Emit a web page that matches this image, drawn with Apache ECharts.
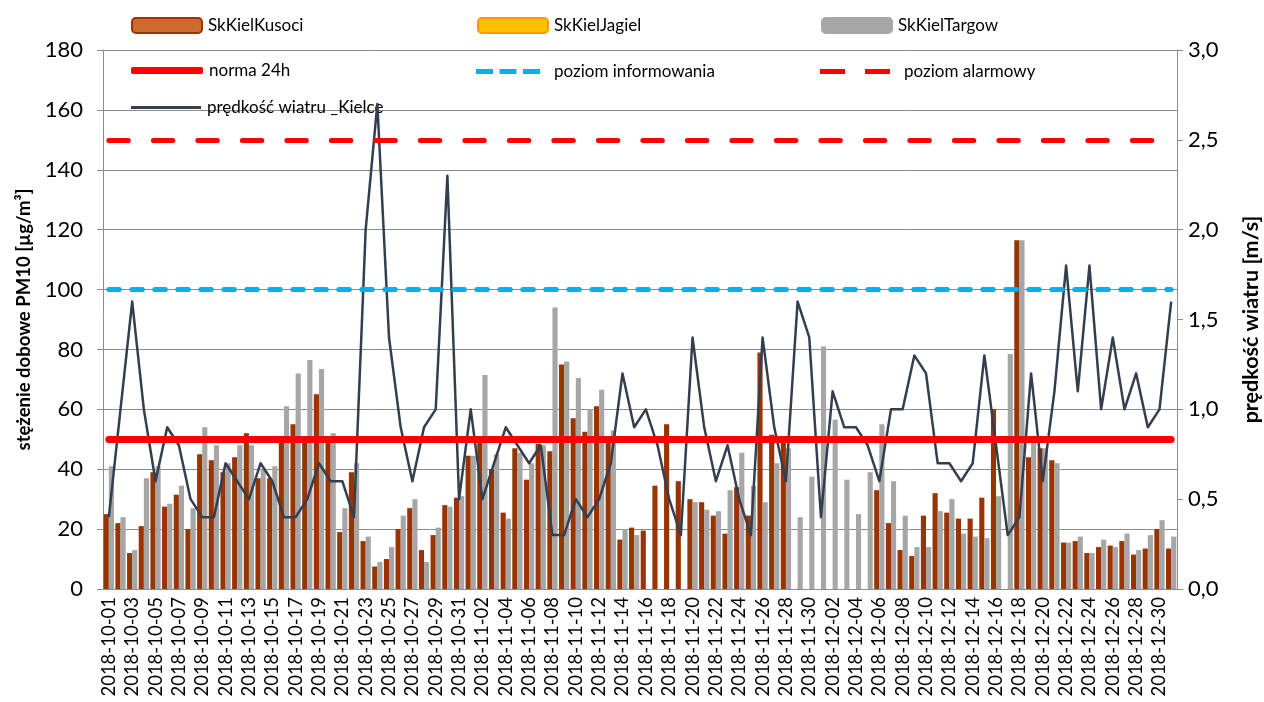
<!DOCTYPE html>
<html>
<head>
<meta charset="utf-8">
<script src="https://cdn.jsdelivr.net/npm/echarts@6/dist/echarts.min.js"></script>
<style>
html, body { margin: 0; padding: 0; background: #ffffff; }
#main { width: 1264px; height: 702px; }
</style>
</head>
<body>
<div id="main"></div>
<script>
// dni 2018-10-01 .. 2018-12-31
var days = [];
var start = Date.UTC(2018, 9, 1);
for (var d = 0; d < 92; d++) {
    days.push(new Date(start + d * 86400000).toISOString().slice(0, 10));
}

// stężenia dobowe PM10 [µg/m3]
var kusoci = [25, 22, 12, 21, 39, 27.5, 31.5, 20, 45, 43,
    39, 44, 52, 37, 37, 49, 55, 49, 65, 49,
    19, 39, 16, 7.5, 10, 20, 27, 13, 18, 28,
    30.5, 44.5, 49, 40, 25.5, 47, 36.5, 48.5, 46, 75,
    57, 52.5, 61, 50, 16.5, 20.5, 19.5, 34.5, 55, 36,
    30, 29, 24.5, 18.5, 34, 24.5, 79, 51.5, 49, null,
    null, null, null, null, null, null, 33, 22, 13, 11,
    24.5, 32, 25.5, 23.5, 23.5, 30.5, 60, null, 116.5, 44,
    47, 43, 15.5, 16, 12, 14, 14.5, 16, 11.5, 13.5,
    20, 13.5];
var jagiel = days.map(function () { return null; }); // brak danych
var targow = [41, 24, 13, 37, 41, 28.5, 34.5, 27, 54, 48,
    42, 48, 48, 40, 41, 61, 72, 76.5, 73.5, 52,
    27, 42, 17.5, 9, 14, 24.5, 30, 9, 20.5, 27.5,
    31, 44.5, 71.5, 45, 23.5, 45.5, 42, 48, 94, 76,
    70.5, 60, 66.5, 53, 20, 18, null, null, null, null,
    29, 26.5, 26, 33, 45.5, 34.5, 29, 42, 47, 24,
    37.5, 81, 56.5, 36.5, 25, 39, 55, 36, 24.5, 14,
    14, 26, 30, 18.5, 17.5, 17, 31, 78.5, 116.5, 51,
    47, 42, 15.5, 17.5, 12, 16.5, 14, 18.5, 13, 18,
    23, 17.5];

// prędkość wiatru [m/s]
var wind = [0.4, 1.0, 1.6, 1.0, 0.6, 0.9, 0.8, 0.5, 0.4, 0.4,
    0.7, 0.6, 0.5, 0.7, 0.6, 0.4, 0.4, 0.5, 0.7, 0.6,
    0.6, 0.4, 2.0, 2.7, 1.4, 0.9, 0.6, 0.9, 1.0, 2.3,
    0.5, 1.0, 0.5, 0.7, 0.9, 0.8, 0.7, 0.8, 0.3, 0.3,
    0.5, 0.4, 0.5, 0.7, 1.2, 0.9, 1.0, 0.8, 0.5, 0.3,
    1.4, 0.9, 0.6, 0.8, 0.5, 0.3, 1.4, 0.9, 0.6, 1.6,
    1.4, 0.4, 1.1, 0.9, 0.9, 0.8, 0.6, 1.0, 1.0, 1.3,
    1.2, 0.7, 0.7, 0.6, 0.7, 1.3, 0.8, 0.3, 0.4, 1.2,
    0.6, 1.1, 1.8, 1.1, 1.8, 1.0, 1.4, 1.0, 1.2, 0.9,
    1.0, 1.6];

// poziomy PM10
var NORMA = 50;
var INFORMOWANIE = 100;
var ALARM = 150;

var FONT = 'Lato';

var normaStyle = { color: '#FF0000', width: 7, type: 'solid', cap: 'round' };
var infoStyle = { color: '#00B0F0', width: 5, type: [10.5, 12.5], cap: 'round' };
var alarmStyle = { color: '#FF0000', width: 5, type: [19.5, 25], cap: 'round' };
var windStyle = { color: '#333F50', width: 2.5, join: 'round' };

function levelLine(value, style) {
    return {
        silent: true,
        symbol: ['none', 'none'],
        label: { show: false },
        lineStyle: style,
        data: [[{ coord: [days[0], value] }, { coord: [days[days.length - 1], value] }]]
    };
}

function legendAt(left, top, item, extra) {
    var l = {
        left: left,
        top: top,
        padding: 0,
        itemWidth: 70,
        itemHeight: 15,
        selectedMode: false,
        textStyle: { fontFamily: FONT, fontSize: 17, color: '#000000', padding: [0, 0, 0, 1] },
        data: [item]
    };
    if (extra) {
        for (var k in extra) l[k] = extra[k];
    }
    return l;
}

var chart = echarts.init(document.getElementById('main'));

var legendText9 = { fontFamily: FONT, fontSize: 17, color: '#000000', padding: [0, 0, 0, 9] };

var option = {
    backgroundColor: '#ffffff',
    animation: false,
    textStyle: { fontFamily: FONT },
    legend: [
        legendAt(131, 17, { name: 'SkKielKusoci', itemStyle: { color: '#D2692C', borderColor: '#993300', borderWidth: 2 } }),
        legendAt(477, 17, { name: 'SkKielJagiel', itemStyle: { color: '#FFC000', borderColor: '#FF9900', borderWidth: 2 } }),
        legendAt(821, 17, { name: 'SkKielTargow', itemStyle: { color: '#A6A6A6', borderColor: '#A6A6A6', borderWidth: 2 } }),
        legendAt(131, 62, { name: 'norma 24h', icon: 'roundRect', itemStyle: { color: '#FF0000' } },
            { itemWidth: 72, itemHeight: 7 }),
        legendAt(476, 63, {
            name: 'poziom informowania',
            icon: 'path://M0,0h17v5h-17z M23.5,0h17v5h-17z M47,0h17v5h-17z',
            itemStyle: { color: '#00B0F0' }
        }, { itemWidth: 64, itemHeight: 5, textStyle: legendText9 }),
        legendAt(820, 63, {
            name: 'poziom alarmowy',
            icon: 'path://M0,0h25v5h-25z M45,0h25v5h-25z',
            itemStyle: { color: '#FF0000' }
        }, { itemWidth: 70, itemHeight: 5, textStyle: legendText9 }),
        legendAt(131, 99, { name: 'prędkość wiatru _Kielce', icon: 'rect', itemStyle: { color: '#333F50' } },
            { itemWidth: 70, itemHeight: 3 })
    ],
    grid: { left: 103, right: 87, top: 50, bottom: 113, containLabel: false, outerBoundsMode: 'none' },
    xAxis: {
        type: 'category',
        data: days,
        boundaryGap: true,
        axisLine: { lineStyle: { color: '#8C8C8C', width: 1 } },
        axisTick: { interval: 1, length: 5, lineStyle: { color: '#8C8C8C' } },
        axisLabel: { interval: 1, rotate: 90, fontFamily: FONT, fontSize: 18.5, color: '#000000', margin: 8 },
        splitLine: { show: false }
    },
    yAxis: [{
        type: 'value',
        min: 0,
        max: 180,
        interval: 20,
        name: 'stężenie dobowe PM10 [µg/m³]',
        nameLocation: 'middle',
        nameGap: 66,
        nameRotate: 90,
        nameTextStyle: { fontFamily: FONT, fontSize: 18.5, fontWeight: 'bold', color: '#000000' },
        axisLine: { show: true, lineStyle: { color: '#8C8C8C', width: 1 } },
        axisTick: { show: true, length: 6, lineStyle: { color: '#8C8C8C' } },
        axisLabel: { fontFamily: FONT, fontSize: 22, color: '#000000', margin: 20 },
        splitLine: { lineStyle: { color: '#8C8C8C', width: 1 } }
    }, {
        type: 'value',
        min: 0,
        max: 3,
        interval: 0.5,
        position: 'right',
        name: 'prędkość wiatru [m/s]',
        nameLocation: 'middle',
        nameGap: 63,
        nameRotate: 90,
        nameTextStyle: { fontFamily: FONT, fontSize: 21.5, fontWeight: 'bold', color: '#000000' },
        axisLine: { show: true, lineStyle: { color: '#8C8C8C', width: 1 } },
        axisTick: { show: true, length: 6, lineStyle: { color: '#8C8C8C' } },
        axisLabel: {
            fontFamily: FONT, fontSize: 22, color: '#000000', margin: 11,
            formatter: function (v) { return v.toFixed(1).replace('.', ','); }
        },
        splitLine: { show: false }
    }],
    series: [{
        name: 'SkKielKusoci',
        type: 'bar',
        stack: 'kusoci',
        data: kusoci,
        barCategoryGap: '12%',
        barGap: '0%',
        itemStyle: { color: '#993300' },
        z: 2
    }, {
        name: 'SkKielJagiel',
        type: 'bar',
        stack: 'kusoci',
        data: jagiel,
        itemStyle: { color: '#FFC000' },
        z: 2
    }, {
        name: 'SkKielTargow',
        type: 'bar',
        data: targow,
        itemStyle: { color: '#A6A6A6' },
        z: 2
    }, {
        name: 'norma 24h',
        type: 'line',
        data: [],
        symbol: 'none',
        itemStyle: { color: '#FF0000' },
        lineStyle: normaStyle,
        markLine: levelLine(NORMA, normaStyle),
        z: 3
    }, {
        name: 'poziom informowania',
        type: 'line',
        data: [],
        symbol: 'none',
        itemStyle: { color: '#00B0F0' },
        lineStyle: infoStyle,
        markLine: levelLine(INFORMOWANIE, infoStyle),
        z: 3
    }, {
        name: 'poziom alarmowy',
        type: 'line',
        data: [],
        symbol: 'none',
        itemStyle: { color: '#FF0000' },
        lineStyle: alarmStyle,
        markLine: levelLine(ALARM, alarmStyle),
        z: 3
    }, {
        name: 'prędkość wiatru _Kielce',
        type: 'line',
        yAxisIndex: 1,
        data: wind,
        symbol: 'none',
        itemStyle: { color: '#333F50' },
        lineStyle: windStyle,
        z: 4
    }]
};

chart.setOption(option);
</script>
</body>
</html>
